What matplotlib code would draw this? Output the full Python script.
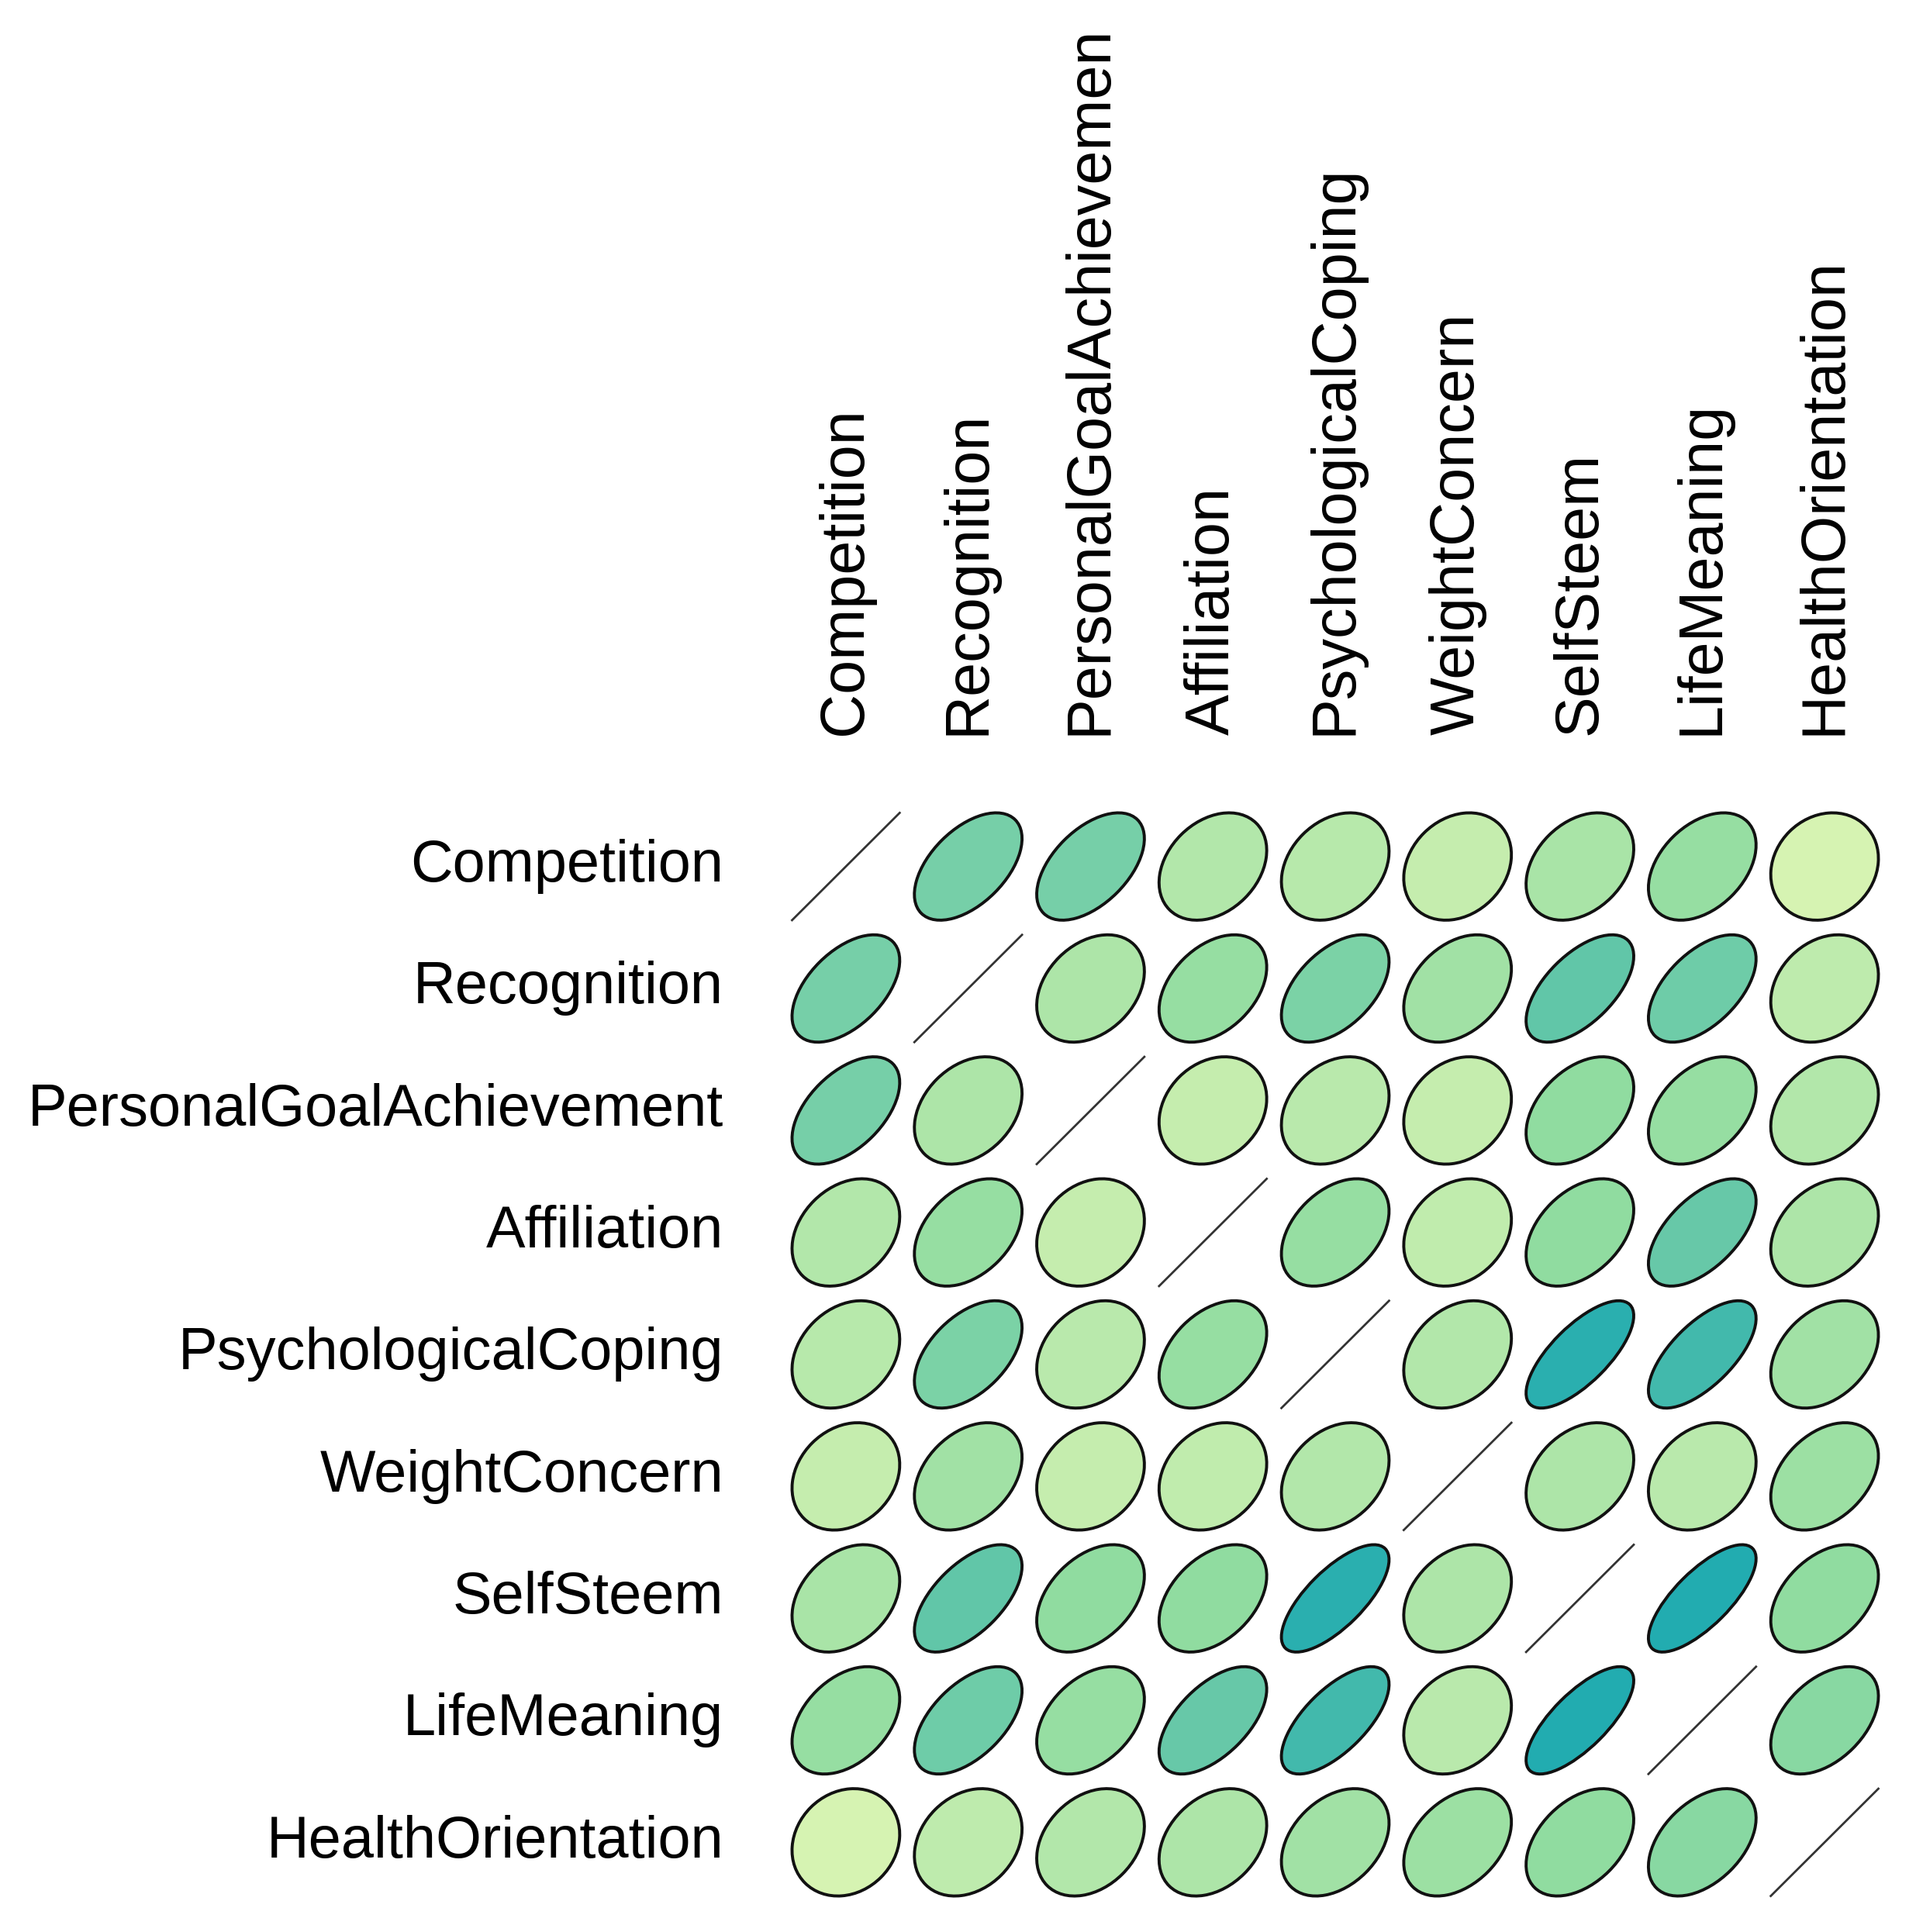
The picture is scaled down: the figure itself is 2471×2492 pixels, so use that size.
import numpy as np
import matplotlib
matplotlib.use("Agg")
import matplotlib.pyplot as plt
from matplotlib.patches import Ellipse
from matplotlib.colors import LinearSegmentedColormap, Normalize
from matplotlib.transforms import Bbox

variables = ["Competition", "Recognition", "PersonalGoalAchievement", "Affiliation",
             "PsychologicalCoping", "WeightConcern", "SelfSteem", "LifeMeaning",
             "HealthOrientation"]

corr = [
    [1.00, 0.52, 0.52, 0.30, 0.28, 0.22, 0.33, 0.40, 0.15],
    [0.52, 1.00, 0.32, 0.40, 0.50, 0.36, 0.60, 0.55, 0.25],
    [0.52, 0.32, 1.00, 0.22, 0.27, 0.22, 0.42, 0.40, 0.30],
    [0.30, 0.40, 0.22, 1.00, 0.40, 0.24, 0.42, 0.58, 0.32],
    [0.28, 0.50, 0.27, 0.40, 1.00, 0.30, 0.72, 0.67, 0.36],
    [0.22, 0.36, 0.22, 0.24, 0.30, 1.00, 0.32, 0.27, 0.38],
    [0.33, 0.60, 0.42, 0.42, 0.72, 0.32, 1.00, 0.74, 0.42],
    [0.40, 0.55, 0.40, 0.58, 0.67, 0.27, 0.74, 1.00, 0.45],
    [0.15, 0.25, 0.30, 0.32, 0.36, 0.38, 0.42, 0.45, 1.00],
]

r_lo, r_hi = 0.15, 0.74
pal = LinearSegmentedColormap.from_list("corr", [
    ((0.15 - r_lo) / (r_hi - r_lo), "#d6f3b2"),
    ((0.30 - r_lo) / (r_hi - r_lo), "#b2e7aa"),
    ((0.42 - r_lo) / (r_hi - r_lo), "#90dca0"),
    ((0.52 - r_lo) / (r_hi - r_lo), "#76cfa8"),
    ((0.60 - r_lo) / (r_hi - r_lo), "#62c6a8"),
    ((0.74 - r_lo) / (r_hi - r_lo), "#22acb0"),
])
norm = Normalize(r_lo, r_hi)

W, H = 2471, 2492
fig = plt.figure(figsize=(W / 100, H / 100), dpi=100)
ax = fig.add_axes([1012 / W, 1 - 2455 / H, 1420 / W, 1416 / H])
ax.set_xlim(0.5, 9.5)
ax.set_ylim(0.5, 9.5)
ax.axis("off")

n = len(variables)
t = 0.44
for i in range(n):
    for j in range(n):
        r = corr[i][j]
        x, y = j + 1, n - i
        if r >= 0.999:
            ax.plot([x - t, x + t], [y - t, y + t], color="#333333", lw=2.0)
            continue
        e = Ellipse((x, y), width=2 * t * np.sqrt(1 + r), height=2 * t * np.sqrt(1 - r),
                    angle=45, facecolor=pal(norm(r)), edgecolor="#111111", lw=2.8)
        ax.add_patch(e)

for i, name in enumerate(variables):
    ax.text(0, n - i, name, ha="right", va="center", fontsize=54.5,
            family="Liberation Sans", clip_on=False)

col_kw = dict(ha="center", va="bottom", rotation=90, fontsize=57, family="Liberation Sans")

# the last letter of the longest column label runs off the page in the original:
# clip just above where "...Achievemen" ends
renderer = fig.canvas.get_renderer()
probe = ax.text(3, n + 1.08, "PersonalGoalAchievemen", **col_kw)
top = probe.get_window_extent(renderer).y1
probe.remove()
clip = Bbox([[0, 0], [W, top - 10]])

for j, name in enumerate(variables):
    txt = ax.text(j + 1, n + 1.08, name, **col_kw)
    txt.set_clip_box(clip)
    txt.set_clip_on(True)

fig.savefig("out.png", dpi=100, facecolor="white")
